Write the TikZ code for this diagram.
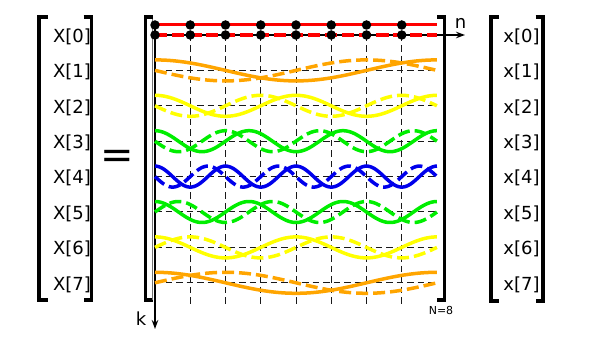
\documentclass[tikz,border=0pt]{standalone}
\usepackage{fontspec}
\setmainfont{DejaVu Sans}
\usetikzlibrary{arrows.meta}
\definecolor{wred}{RGB}{255,0,0}
\definecolor{worange}{RGB}{255,165,0}
\definecolor{wyellow}{RGB}{255,255,0}
\definecolor{wgreen}{RGB}{0,238,0}
\definecolor{wblue}{RGB}{0,0,235}
\begin{document}
\begin{tikzpicture}[x=1pt,y=-1pt,
  lab/.style={font=\fontsize{18}{20}\selectfont, inner sep=0pt, anchor=base},
  brk/.style={line width=3.4pt, line join=miter},
  gridline/.style={black!90, line width=1pt, dash pattern=on 6.5pt off 4pt},
  wave/.style={line width=3.5pt},
  wavedash/.style={line width=3.5pt, dash pattern=on 12pt off 5pt},
  axisline/.style={line width=1.3pt, -{Stealth[length=9pt,width=6.5pt]}},
  dotmark/.style={circle, fill=black, inner sep=0pt, minimum size=9.5pt}
]
\useasboundingbox (0,0) rectangle (592,339);

% brackets
\draw[brk] (47.5,17) -- (39,17) -- (39,300) -- (47.5,300);
\draw[brk] (83.5,17) -- (91.5,17) -- (91.5,300) -- (83.5,300);
\draw[brk] (153,17) -- (145.5,17) -- (145.5,300) -- (153,300);
\draw[black!55, line width=0.8pt] (152.5,19) -- (152.5,300);
\draw[brk] (437,17) -- (444.5,17) -- (444.5,300) -- (437,300);
\draw[brk] (499,17) -- (491,17) -- (491,301) -- (499,301);
\draw[brk] (535.5,17) -- (543,17) -- (543,301) -- (535.5,301);

% equals sign
\node[font=\fontsize{40}{44}\selectfont, inner sep=0pt] (eq) at (117,159.5) {=};

% grid
\foreach \k in {0,...,7} {
  \pgfmathsetmacro\yk{35+35.4*\k}
  \coordinate (gl\k) at (155,\yk);
  \coordinate (gr\k) at (437,\yk);
  \draw[gridline] (gl\k) -- (gr\k);
  \node[lab] (X\k) at (72,\yk+7.3) {X[\k]};
  \node[lab] (x\k) at (521.5,\yk+7.3) {x[\k]};
}
\foreach \n in {1,...,7} {
  \pgfmathsetmacro\xn{155+35.25*\n}
  \coordinate (gt\n) at (\xn,35);
  \coordinate (gb\n) at (\xn,305);
  \draw[gridline] (gt\n) -- (gb\n);
}

% axes
\coordinate (o) at (155,35);
\coordinate (nend) at (465,35);
\coordinate (ktop) at (155,22);
\coordinate (kend) at (155,329);
\draw[axisline] (o) -- (nend);
\draw[axisline] (ktop) -- (kend);
\node[lab] (nlab) at (460.5,28.3) {n};
\node[lab] (klab) at (141,326) {k};
\node[font=\fontsize{11}{12}\selectfont, inner sep=0pt, anchor=base] (N) at (441,315) {N=8};

% waves
\foreach \k/\f/\c in {0/0/wred,1/1/worange,2/2/wyellow,3/3/wgreen,4/4/wblue,5/-3/wgreen,6/-2/wyellow,7/-1/worange} {
  \pgfmathsetmacro\yk{35+35.4*\k}
  \draw[wave,\c] plot[domain=0:8,samples=161,smooth] ({155+35.25*\x},{\yk-10.5*cos(45*\f*\x)});
  \draw[wavedash,\c] plot[domain=0:8,samples=161,smooth] ({155+35.25*\x},{\yk+10.5*sin(45*\f*\x)});
}

% sample dots on row 0
\foreach \n in {0,...,7} {
  \node[dotmark] (ds\n) at (155+35.25*\n,25) {};
  \node[dotmark] (dd\n) at (155+35.25*\n,35) {};
}
\end{tikzpicture}
\end{document}
